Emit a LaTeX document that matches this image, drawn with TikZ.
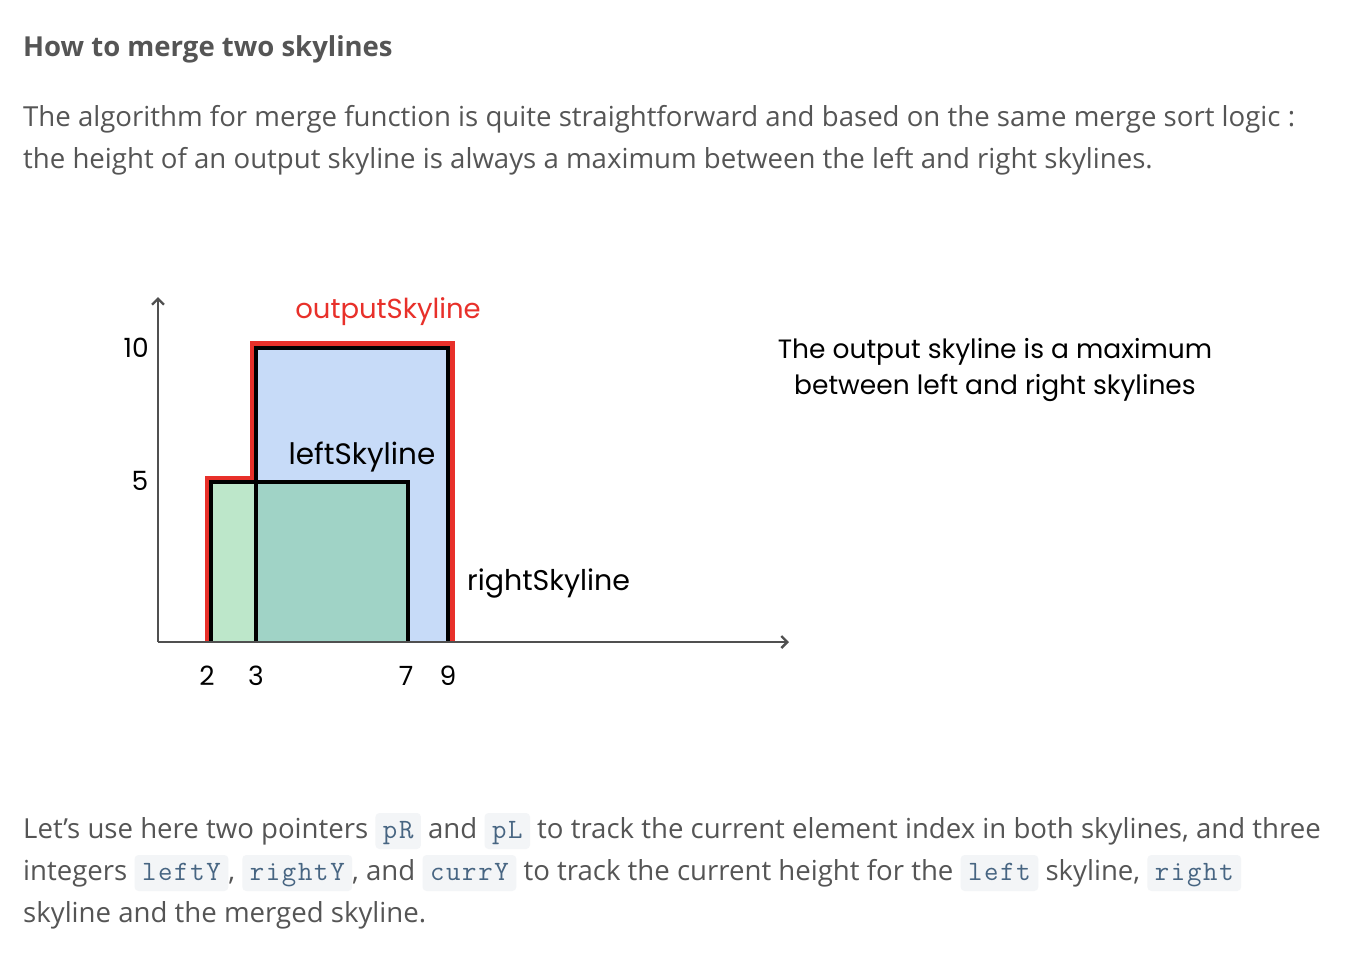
\documentclass[tikz,border=0pt]{standalone}
\usepackage{fontspec}
\setmainfont{Open Sans}
\newfontfamily\comic{Poppins}
\newfontfamily\codefont{Latin Modern Mono}[LetterSpace=6]
\usetikzlibrary{arrows.meta}
\definecolor{txt}{HTML}{555555}
\definecolor{codefg}{HTML}{476582}
\definecolor{codebg}{HTML}{F3F5F7}
\definecolor{gfill}{HTML}{BDE7CA}
\definecolor{tfill}{HTML}{A0D3C6}
\definecolor{bfill}{HTML}{C7DBF8}
\definecolor{skyred}{HTML}{E8302A}
\definecolor{axiscol}{HTML}{505050}
\newcommand\code[1]{\tikz[baseline=(cd.base)]\node(cd)[fill=codebg,rounded corners=4pt,inner xsep=7.5pt,inner ysep=6pt,text height=19pt,text depth=5pt,font=\codefont\fontsize{28}{30}\selectfont,text=codefg]{#1};}
\tikzset{
  body/.style={anchor=base west,inner sep=0pt,text=txt,font=\fontsize{27.6}{42}\selectfont},
  dlabel/.style={inner sep=0pt,font=\comic\fontsize{26.5}{36}\selectfont},
  blackline/.style={draw=black,line width=3.2pt},
  axisline/.style={draw=axiscol,line width=1.8pt,-{Straight Barb[length=6pt,width=12pt,line width=2.4pt]}}
}
\begin{document}
\begin{tikzpicture}[x=1pt,y=-1pt]
\useasboundingbox[fill=white] (0,0) rectangle (1350,956);
% heading and paragraph
\node[body,font=\fontsize{27.5}{34}\bfseries] (title) at (23,56) {How to merge two skylines};
\node[body] (p1) at (23,126) {The algorithm for merge function is quite straightforward and based on the same merge sort logic :};
\node[body] (p2) at (23,168) {the height of an output skyline is always a maximum between the left and right skylines.};
% fills
\fill[bfill] (256,348) rectangle (448,642);
\fill[gfill] (211,482) rectangle (256,642);
\fill[tfill] (256,482) rectangle (408,642);
% output skyline
\draw[skyred,line width=5pt,line join=miter] (207,642) -- (207,478) -- (252,478) -- (252,343) -- (452,343) -- (452,642);
% skylines outlines
\draw[blackline] (211,642) -- (211,482) -- (408,482) -- (408,642);
\draw[blackline] (256,642) -- (256,348) -- (448,348) -- (448,642);
% axes
\coordinate (o) at (158,642);
\coordinate (xe) at (789,642);
\coordinate (ye) at (158,297);
\draw[axisline] (o) -- (xe);
\draw[axisline] (o) -- (ye);
% labels
\node[dlabel,text=skyred,font=\comic\fontsize{27.5}{36}\selectfont] (lout) at (388,312) {outputSkyline};
\node[dlabel,font=\comic\fontsize{29.5}{36}\selectfont] (lleft) at (362,457) {leftSkyline};
\node[dlabel,anchor=west,font=\comic\fontsize{28.5}{36}\selectfont] (lright) at (467,583) {rightSkyline};
\node[dlabel,anchor=east] (y10) at (149,348) {10};
\node[dlabel] (y5) at (140,481) {5};
\node[dlabel] (x2) at (207,676) {2};
\node[dlabel] (x3) at (256,676) {3};
\node[dlabel] (x7) at (406,676) {7};
\node[dlabel] (x9) at (448,676) {9};
\node[dlabel,align=center] (note) at (995,370) {The output skyline is a maximum\\between left and right skylines};
% bottom paragraph
\node[body] (q1) at (23,838) {Let's use here two pointers \code{pR} and \code{pL} to track the current element index in both skylines, and three};
\node[body] (q2) at (23,880) {integers \code{leftY}, \code{rightY}, and \code{currY} to track the current height for the \code{left} skyline, \code{right}};
\node[body] (q3) at (23,922) {skyline and the merged skyline.};
\end{tikzpicture}
\end{document}
